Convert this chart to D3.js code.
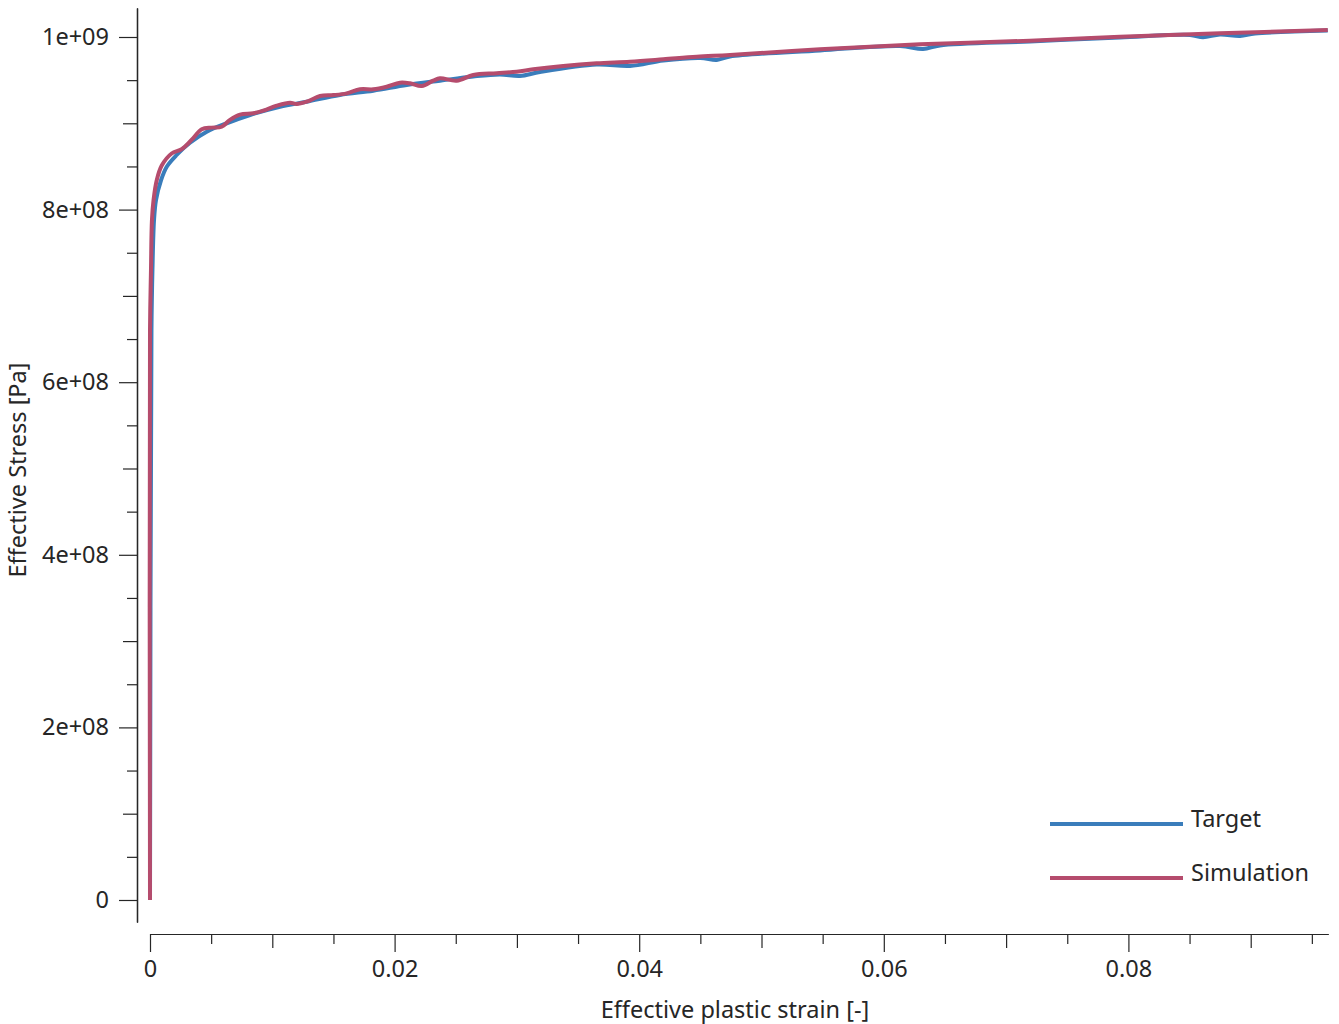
<!DOCTYPE html>
<html>
<head>
<meta charset="utf-8">
<script src="https://cdn.jsdelivr.net/npm/d3@7"></script>
<style>
  body { margin: 0; background: #fff; }
  text { font-family: "Noto Sans", "Open Sans", sans-serif; fill: #262626; }
</style>
</head>
<body>
<svg id="chart" width="1339" height="1024"></svg>
<script>
// values (stress in MPa, converted below)
const targetStrain = [0, 0.00012, 0.0002, 0.00033, 0.00049, 0.0009, 0.00137, 0.00218, 0.00327, 0.00464, 0.00627, 0.00818, 0.01063, 0.01281, 0.01553, 0.01826, 0.02099, 0.02371, 0.02643, 0.02860, 0.03025, 0.03189, 0.03652, 0.03925, 0.04197, 0.04500, 0.04634, 0.04742, 0.05478, 0.06133, 0.06321, 0.06459, 0.07195, 0.07931, 0.08504, 0.0861, 0.08749, 0.08913, 0.09035, 0.0963];
const targetStress = [0, 660, 730, 788, 811, 834, 849.7, 863.3, 877.5, 890.3, 900, 909.6, 919.2, 925, 932.8, 937.8, 944.4, 949.4, 954.2, 956.5, 954.8, 959.4, 968.1, 966.4, 972.7, 975.6, 973.4, 977.4, 984.4, 989.6, 986.1, 990.2, 994.8, 999.4, 1002.3, 999.7, 1002.9, 1001.2, 1004, 1007.5];

const simStrain = [0, 0, 0.00008, 0.00016, 0.00029, 0.00055, 0.00096, 0.00177, 0.00259, 0.00341, 0.00423, 0.00504, 0.00586, 0.00654, 0.00736, 0.00845, 0.00926, 0.01036, 0.01145, 0.012, 0.01281, 0.0139, 0.01499, 0.01608, 0.01717, 0.01826, 0.01935, 0.02044, 0.02126, 0.02222, 0.02316, 0.02371, 0.02508, 0.02643, 0.02835, 0.02998, 0.03134, 0.03379, 0.03652, 0.03925, 0.04197, 0.0447, 0.04742, 0.05478, 0.06296, 0.07195, 0.07931, 0.08749, 0.0963];
const simStress = [0, 660, 730, 788, 811, 834, 851, 865, 870, 881, 893, 895, 896, 904, 910, 911.6, 914.6, 920.4, 923.9, 922.4, 925, 931.6, 932.7, 934.7, 939.4, 939.4, 942.4, 947, 946.3, 943.2, 949.4, 952.1, 949.4, 956, 958, 959.8, 962.5, 966.4, 969.5, 971.4, 974.2, 977.2, 979.1, 985.7, 991.5, 995.7, 1000.3, 1004.3, 1008.1];

const yMajor = [0, 2e8, 4e8, 6e8, 8e8, 1e9];
const yMajorLabels = ['0', '2e+08', '4e+08', '6e+08', '8e+08', '1e+09'];
const yMid = [1e8, 3e8, 5e8, 7e8, 9e8];
const yMinor = [5e7, 1.5e8, 2.5e8, 3.5e8, 4.5e8, 5.5e8, 6.5e8, 7.5e8, 8.5e8, 9.5e8];

const xMajor = [0, 0.02, 0.04, 0.06, 0.08];
const xMajorLabels = ['0', '0.02', '0.04', '0.06', '0.08'];
const xMid = [0.01, 0.03, 0.05, 0.07, 0.09];
const xMinor = [0.005, 0.015, 0.025, 0.035, 0.045, 0.055, 0.065, 0.075, 0.085, 0.095];

const seriesNames = ['Target', 'Simulation'];
const seriesColors = ['#3a7dbb', '#b54c6d'];

const svg = d3.select('#chart');

const x = d3.scaleLinear()
.domain([0, 0.09632])
.range([150, 1328]);

const y = d3.scaleLinear()
.domain([-25.5e6, 1033.6e6])
.range([922, 8]);

const xAxisY = 934;
const yAxisX = 137;

function styleAxis(g) {
  g.selectAll('path, line').attr('stroke', '#262626').attr('stroke-width', 1.2);
  g.selectAll('text').style('font-size', '23.5px').style('fill', '#262626')
  .style('font-family', '"Noto Sans", "Open Sans", sans-serif');
}

// y axis: three tick lengths
svg.append('g')
.attr('transform', `translate(${yAxisX}, 0)`)
.call(d3.axisLeft(y).tickValues(yMinor).tickSize(10).tickSizeOuter(0).tickFormat(''))
.call(styleAxis);
svg.append('g')
.attr('transform', `translate(${yAxisX}, 0)`)
.call(d3.axisLeft(y).tickValues(yMid).tickSize(14).tickSizeOuter(0).tickFormat(''))
.call(styleAxis);
svg.append('g')
.attr('transform', `translate(${yAxisX}, 0)`)
.call(d3.axisLeft(y).tickValues(yMajor).tickSize(18).tickPadding(10).tickSizeOuter(0)
  .tickFormat((d, i) => yMajorLabels[i]))
.call(styleAxis);

// x axis
svg.append('g')
.attr('transform', `translate(0, ${xAxisY})`)
.call(d3.axisBottom(x).tickValues(xMinor).tickSize(10).tickSizeOuter(0).tickFormat(''))
.call(styleAxis);
svg.append('g')
.attr('transform', `translate(0, ${xAxisY})`)
.call(d3.axisBottom(x).tickValues(xMid).tickSize(14).tickSizeOuter(0).tickFormat(''))
.call(styleAxis);
svg.append('g')
.attr('transform', `translate(0, ${xAxisY})`)
.call(d3.axisBottom(x).tickValues(xMajor).tickSize(18).tickPadding(8).tickSizeOuter(0)
  .tickFormat((d, i) => xMajorLabels[i]))
.call(styleAxis);

svg.append('text')
.attr('x', 735)
.attr('y', 1018)
.attr('text-anchor', 'middle')
.style('font-size', '23.5px')
.text('Effective plastic strain [-]');

svg.append('text')
.attr('transform', 'rotate(-90)')
.attr('x', -470)
.attr('y', 26)
.attr('text-anchor', 'middle')
.style('font-size', '23.5px')
.text('Effective Stress [Pa]');

const line = d3.line()
.curve(d3.curveCatmullRom.alpha(0.5))
.x(d => x(d[0]))
.y(d => y(d[1] * 1e6));

const series = [
  d3.zip(targetStrain, targetStress),
  d3.zip(simStrain, simStress)
];

series.forEach((pts, i) => {
  svg.append('path')
  .datum(pts)
  .attr('fill', 'none')
  .attr('stroke', seriesColors[i])
  .attr('stroke-width', 4)
  .attr('stroke-linejoin', 'round')
  .attr('d', line);
});

// legend
seriesNames.forEach((name, i) => {
  const ly = 824 + i * 54;
  svg.append('line')
  .attr('x1', 1050).attr('x2', 1183)
  .attr('y1', ly).attr('y2', ly)
  .attr('stroke', seriesColors[i])
  .attr('stroke-width', 4);
  svg.append('text')
  .attr('x', 1191).attr('y', ly + 3)
  .style('font-size', '23.5px')
  .text(name);
});
</script>
</body>
</html>
